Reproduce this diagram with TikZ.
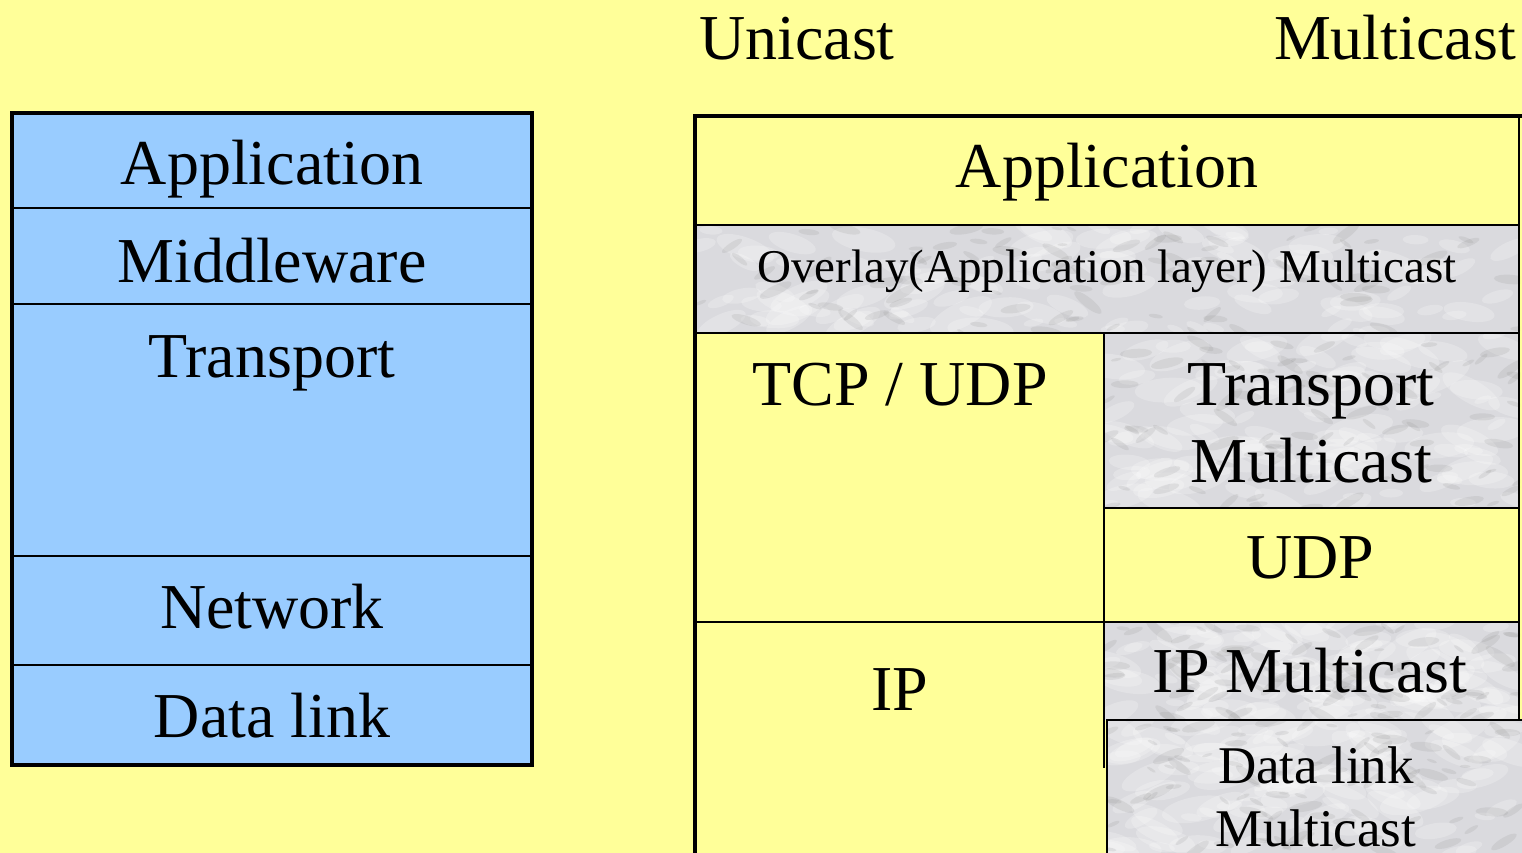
\documentclass[tikz,border=0pt]{standalone}
\usepackage{fontspec}
\setmainfont{Liberation Serif}
\definecolor{paper}{HTML}{FFFF99}
\definecolor{layerblue}{HTML}{99CCFF}
\definecolor{marblebase}{HTML}{DADADE}
\tikzset{
  thickrule/.style={line width=4pt},
  thinrule/.style={line width=2pt},
  big/.style={font=\fontsize{64}{70}\selectfont, anchor=base, inner sep=0pt},
  mid/.style={font=\fontsize{53}{58}\selectfont, anchor=base, inner sep=0pt},
  small/.style={font=\fontsize{47}{52}\selectfont, anchor=base, inner sep=0pt},
}
% grey marble texture filling a rectangle
\newcommand\marblefill[4]{%
  \begin{scope}
    \clip (#1,#2) rectangle (#3,#4);
    \fill[marblebase] (#1,#2) rectangle (#3,#4);
    \foreach \k in {1,...,110}{
      \pgfmathsetmacro\mx{#1+rnd*(#3-#1)}
      \pgfmathsetmacro\my{#2+rnd*(#4-#2)}
      \pgfmathsetmacro\mr{4+rnd*12}
      \pgfmathsetmacro\ma{-30+rnd*60}
      \fill[white,opacity=0.22,rotate around={\ma:(\mx,\my)}] (\mx,\my) ellipse ({\mr*2.2} and {\mr*0.8});
    }
    \foreach \k in {1,...,90}{
      \pgfmathsetmacro\mx{#1+rnd*(#3-#1)}
      \pgfmathsetmacro\my{#2+rnd*(#4-#2)}
      \pgfmathsetmacro\mr{2+rnd*5}
      \pgfmathsetmacro\ma{-40+rnd*80}
      \fill[gray,opacity=0.14,rotate around={\ma:(\mx,\my)}] (\mx,\my) ellipse ({\mr*2.5} and {\mr*0.7});
    }
  \end{scope}}
\begin{document}
\begin{tikzpicture}[x=1pt,y=-1pt]
\pgfmathsetseed{7}
\fill[paper] (0,0) rectangle (1522,853);
\useasboundingbox (0,0) rectangle (1522,853);

% ---------- left: classic layer stack ----------
\fill[layerblue] (12,113) rectangle (532,765);
\draw[thinrule] (12,208) -- (532,208);
\draw[thinrule] (12,304) -- (532,304);
\draw[thinrule] (12,556) -- (532,556);
\draw[thinrule] (12,665) -- (532,665);
\draw[thickrule] (12,113) rectangle (532,765);
\node[big] (lapp) at (272,185) {Application};
\node[big] (lmid) at (272,282) {Middleware};
\node[big] (ltra) at (272,377) {Transport};
\node[big] (lnet) at (272,628) {Network};
\node[big] (ldl)  at (272,737) {Data link};

% ---------- column headings ----------
\node[big] (uni) at (797,60) {Unicast};
\node[big, anchor=base east] (multi) at (1516,60) {Multicast};

% ---------- right: unicast / multicast stack ----------
\marblefill{695}{225}{1520}{333}
\marblefill{1104}{333}{1520}{508}
\marblefill{1104}{622}{1520}{720}
\marblefill{1106}{720}{1522}{853}

\draw[thinrule] (695,225) -- (1520,225);
\draw[thinrule] (695,333) -- (1520,333);
\draw[thinrule] (1104,508) -- (1518,508);
\draw[thinrule] (695,622) -- (1520,622);
\draw[thinrule] (1104,333) -- (1104,768);
\draw[thinrule] (1519,116) -- (1519,720);
\draw[line width=2.5pt] (1107,853) -- (1107,720) -- (1522,720);
\draw[thickrule] (695,853) -- (695,116) -- (1522,116);

\node[big]   (rapp) at (1107,187) {Application};
\node[small] (ovl)  at (1107,282) {Overlay(Application layer) Multicast};
\node[big]   (tcp)  at (900,405) {TCP / UDP};
\node[big]   (tm1)  at (1311,405) {Transport};
\node[big]   (tm2)  at (1311,482) {Multicast};
\node[big]   (udp)  at (1310,578) {UDP};
\node[big]   (ip)   at (900,710) {IP};
\node[big]   (ipm)  at (1310,692) {IP Multicast};
\node[mid]   (dl1)  at (1316,783) {Data link};
\node[mid]   (dl2)  at (1316,846) {Multicast};
\end{tikzpicture}
\end{document}
